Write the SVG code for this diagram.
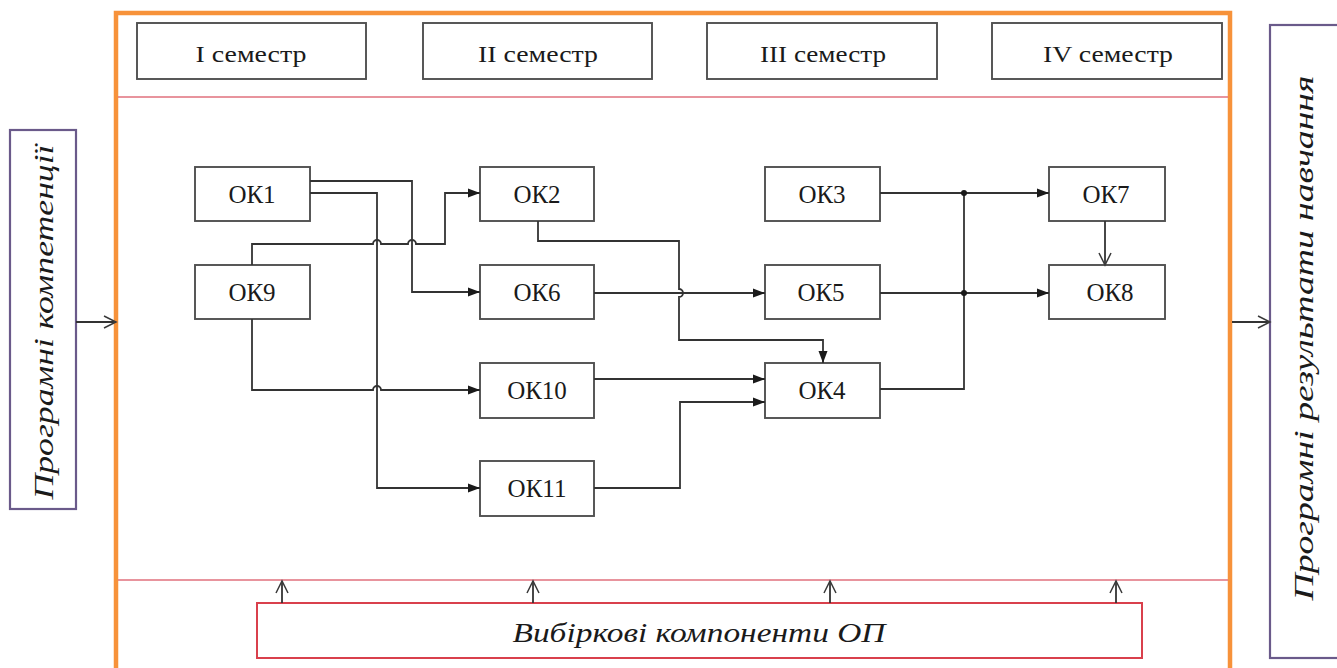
<svg xmlns="http://www.w3.org/2000/svg" width="1337" height="668" viewBox="0 0 1337 668">
<defs>
<style>
.node{fill:#fff;stroke:#505050;stroke-width:1.9}
.sem{fill:#fff;stroke:#505050;stroke-width:1.9}
.t{font-family:"Liberation Serif","Times New Roman",serif;fill:#1a1a1a}
.nt{font-size:25px;text-anchor:middle}
.st{font-size:23px;text-anchor:middle}
.it{font-style:italic;font-size:28px}
.c{fill:none;stroke:#333;stroke-width:1.8}
.red{stroke:#e0707c;stroke-width:1.5}
.side{fill:#fff;stroke:#6a5a8a;stroke-width:2.2}
</style>
<marker id="fa" markerUnits="userSpaceOnUse" markerWidth="14" markerHeight="12" refX="12" refY="6" orient="auto">
<path d="M0,1.5 L12,6 L0,10.5 Z" fill="#1a1a1a"/>
</marker>
<marker id="oa" markerUnits="userSpaceOnUse" markerWidth="16" markerHeight="16" refX="13" refY="8" orient="auto">
<path d="M1,2 L13,8 L1,14" fill="none" stroke="#3a3a3a" stroke-width="1.5"/>
</marker>
</defs>
<rect width="1337" height="668" fill="#fff"/>

<!-- outer frame -->
<g id="frame">
<rect x="116" y="13" width="1114" height="670" fill="#fff" stroke="#f7923a" stroke-width="4.5"/>
<line class="red" x1="118" y1="97" x2="1228" y2="97"/>
<line class="red" x1="118" y1="580" x2="1228" y2="580"/>
</g>

<!-- semesters -->
<g id="sem1"><rect class="sem" x="137" y="23" width="229" height="56"/><text class="t st" x="251" y="62" textLength="111" lengthAdjust="spacingAndGlyphs">I семестр</text></g>
<g id="sem2"><rect class="sem" x="423" y="23" width="229" height="56"/><text class="t st" x="538" y="62" textLength="120" lengthAdjust="spacingAndGlyphs">II семестр</text></g>
<g id="sem3"><rect class="sem" x="707" y="23" width="230" height="56"/><text class="t st" x="823" y="62" textLength="126" lengthAdjust="spacingAndGlyphs">III семестр</text></g>
<g id="sem4"><rect class="sem" x="992" y="23" width="230" height="56"/><text class="t st" x="1108" y="62" textLength="130" lengthAdjust="spacingAndGlyphs">IV семестр</text></g>

<!-- side boxes -->
<g id="competences">
<rect class="side" x="10" y="130" width="66" height="379"/>
<text class="t it" transform="translate(53,322) rotate(-90)" text-anchor="middle" textLength="355" lengthAdjust="spacingAndGlyphs">Програмні компетенції</text>
</g>
<g id="results">
<rect class="side" x="1270" y="25" width="80" height="633"/>
<text class="t it" transform="translate(1313,338) rotate(-90)" text-anchor="middle" textLength="525" lengthAdjust="spacingAndGlyphs">Програмні результати навчання</text>
</g>
<g id="elective">
<rect x="257" y="603" width="885" height="55" fill="#fff" stroke="#d9404c" stroke-width="2"/>
<text class="t" x="699" y="642" font-size="27" font-style="italic" text-anchor="middle" textLength="373" lengthAdjust="spacingAndGlyphs">Вибіркові компоненти ОП</text>
</g>

<!-- nodes -->
<g id="OK1"><rect class="node" x="195" y="167" width="115" height="54"/><text class="t nt" x="252" y="203">ОК1</text></g>
<g id="OK2"><rect class="node" x="480" y="167" width="114" height="54"/><text class="t nt" x="537" y="203">ОК2</text></g>
<g id="OK3"><rect class="node" x="765" y="167" width="115" height="54"/><text class="t nt" x="822" y="203">ОК3</text></g>
<g id="OK7"><rect class="node" x="1049" y="167" width="116" height="54"/><text class="t nt" x="1106" y="203">ОК7</text></g>
<g id="OK9"><rect class="node" x="195" y="265" width="115" height="54"/><text class="t nt" x="252" y="301">ОК9</text></g>
<g id="OK6"><rect class="node" x="480" y="265" width="114" height="54"/><text class="t nt" x="537" y="301">ОК6</text></g>
<g id="OK5"><rect class="node" x="765" y="265" width="115" height="54"/><text class="t nt" x="821" y="301">ОК5</text></g>
<g id="OK8"><rect class="node" x="1049" y="265" width="116" height="54"/><text class="t nt" x="1110" y="301">ОК8</text></g>
<g id="OK10"><rect class="node" x="480" y="363" width="114" height="55"/><text class="t nt" x="537" y="399">ОК10</text></g>
<g id="OK4"><rect class="node" x="765" y="363" width="115" height="55"/><text class="t nt" x="822" y="399">ОК4</text></g>
<g id="OK11"><rect class="node" x="480" y="461" width="114" height="55"/><text class="t nt" x="537" y="497">ОК11</text></g>

<!-- connectors -->
<g id="connectors">
<path class="c" d="M310,181 H412 V292 H480" marker-end="url(#fa)"/>
<path class="c" d="M310,193 H377 V488 H480" marker-end="url(#fa)"/>
<path class="c" d="M252,265 V244 H373 a4,4 0 0 1 8,0 H408 a4,4 0 0 1 8,0 H445 V193 H480" marker-end="url(#fa)"/>
<path class="c" d="M252,319 V390 H373 a4,4 0 0 1 8,0 H480" marker-end="url(#fa)"/>
<path class="c" d="M538,221 V241 H679 V289 a4,4 0 0 1 0,8 V340 H823 V363" marker-end="url(#fa)"/>
<path class="c" d="M594,293 H765" marker-end="url(#fa)"/>
<path class="c" d="M594,379 H765" marker-end="url(#fa)"/>
<path class="c" d="M594,488 H680 V402 H765" marker-end="url(#fa)"/>
<path class="c" d="M880,193 H1049" marker-end="url(#fa)"/>
<path class="c" d="M880,293 H1049" marker-end="url(#fa)"/>
<path class="c" d="M880,389 H964 V193"/>
<circle cx="964" cy="193" r="3" fill="#1a1a1a"/>
<circle cx="964" cy="293" r="3" fill="#1a1a1a"/>
<path class="c" d="M1105,221 V265" marker-end="url(#oa)"/>
<path class="c" d="M76,322 H116" marker-end="url(#oa)"/>
<path class="c" d="M1232,322 H1270" marker-end="url(#oa)"/>
<path class="c" d="M282,603 V581" marker-end="url(#oa)"/>
<path class="c" d="M533,603 V581" marker-end="url(#oa)"/>
<path class="c" d="M830,603 V581" marker-end="url(#oa)"/>
<path class="c" d="M1116,603 V581" marker-end="url(#oa)"/>
</g>
</svg>
